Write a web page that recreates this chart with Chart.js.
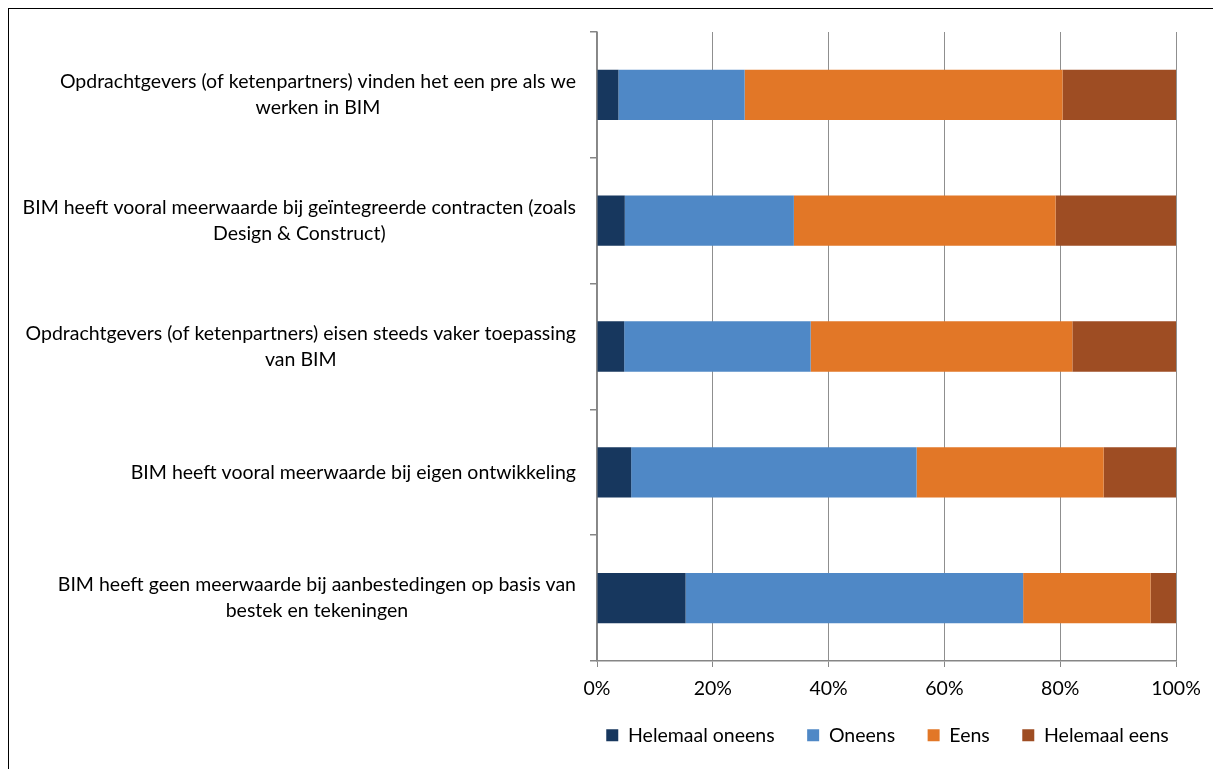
<!DOCTYPE html>
<html>
<head>
<meta charset="utf-8">
<script src="https://cdn.jsdelivr.net/npm/chart.js@4.4.1/dist/chart.umd.min.js"></script>
<style>
  html, body { margin: 0; padding: 0; background: #fff; overflow: hidden; }
  #frame { position: absolute; left: 8px; top: 8px; width: 1230px; height: 790px; border: 1px solid #000; }
  #wrap { position: absolute; left: 0; top: 0; width: 1213px; height: 769px; }
</style>
</head>
<body>
<div id="frame"></div>
<div id="wrap"><canvas id="chart"></canvas></div>
<script>
const categories = [
  ["Opdrachtgevers (of ketenpartners) vinden het een pre als we", "werken in BIM"],
  ["BIM heeft vooral meerwaarde bij geïntegreerde contracten (zoals", "Design & Construct)"],
  ["Opdrachtgevers (of ketenpartners) eisen steeds vaker toepassing", "van BIM"],
  ["BIM heeft vooral meerwaarde bij eigen ontwikkeling"],
  ["BIM heeft geen meerwaarde bij aanbestedingen op basis van", "bestek en tekeningen"]
];
const seriesNames = ["Helemaal oneens", "Oneens", "Eens", "Helemaal eens"];
const helemaalOneens = [3.7, 4.8, 4.7, 5.9, 15.3];
const oneens = [21.8, 29.2, 32.2, 49.3, 58.3];
const eens = [54.9, 45.2, 45.2, 32.3, 22.0];
const helemaalEens = [19.6, 20.8, 17.9, 12.5, 4.4];
const xTicks = [0, 20, 40, 60, 80, 100];

const colors = ["#17375E", "#4F88C6", "#E27727", "#9E4D23"];
const FONT = "Lato";
const FS = 19.5;
const AXIS = "#868686";

// category labels: lines centred on each other, block right-aligned to the axis
const yLabels = {
  id: "yLabels",
  afterLayout(c) {
    // centre the legend under the plot area and pull it up a little
    const lg = c.legend, h = lg.bottom - lg.top;
    const mid = (c.chartArea.left + c.chartArea.right) / 2 + 1;
    lg.left = mid - 330;
    lg.right = mid + 330;
    lg.top = 693;
    lg.bottom = lg.top + h;
  },
  afterDraw(c) {
    const s = c.scales.y, ctx = c.ctx;
    ctx.save();
    ctx.font = FS + "px " + FONT;
    ctx.fillStyle = "#000";
    ctx.textAlign = "center";
    ctx.textBaseline = "middle";
    const lh = 26;
    categories.forEach((lines, i) => {
      const w = Math.max(...lines.map(l => ctx.measureText(l).width));
      const cx = s.right - 21 - w / 2;
      const cy = s.getPixelForTick(i);
      lines.forEach((l, k) => ctx.fillText(l, cx, cy + (k - (lines.length - 1) / 2) * lh));
    });
    ctx.restore();
  }
};

new Chart(document.getElementById("chart"), {
  type: "bar",
  data: {
    labels: categories,
    datasets: [helemaalOneens, oneens, eens, helemaalEens].map((d, i) => ({
      label: seriesNames[i],
      data: d,
      backgroundColor: colors[i],
      borderWidth: 0,
      categoryPercentage: 1,
      barPercentage: 0.4
    }))
  },
  options: {
    indexAxis: "y",
    responsive: true,
    maintainAspectRatio: false,
    animation: false,
    layout: { padding: { left: 0, right: 37, top: 32, bottom: 2 } },
    plugins: {
      tooltip: { enabled: false },
      legend: {
        position: "bottom",
        labels: {
          boxWidth: 12, boxHeight: 12, padding: 32.5,
          color: "#000",
          font: { family: FONT, size: FS }
        }
      }
    },
    scales: {
      x: {
        stacked: true,
        min: 0, max: 100,
        afterBuildTicks: s => { s.ticks = xTicks.map(v => ({ value: v })); },
        afterFit: s => { s.height = 44; },
        ticks: { callback: v => v + "%", color: "#000", padding: 10, font: { family: FONT, size: FS } },
        grid: { color: "#8f8f8f", tickColor: AXIS, tickLength: 6, lineWidth: 1 },
        border: { color: AXIS, width: 1.5 }
      },
      y: {
        stacked: true,
        afterFit: s => { s.width = 597; },
        ticks: { display: false },
        grid: { offset: true, drawOnChartArea: false, drawTicks: true, tickLength: 7, tickColor: AXIS, lineWidth: 1.5 },
        border: { color: AXIS, width: 1.5 }
      }
    }
  },
  plugins: [yLabels]
});
</script>
</body>
</html>
